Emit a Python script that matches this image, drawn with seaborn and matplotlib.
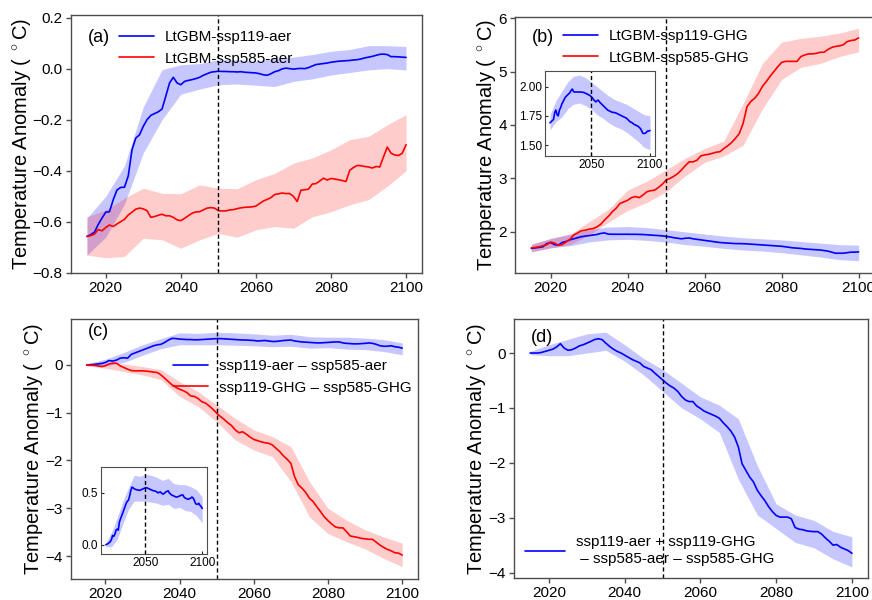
import numpy as np
import pandas as pd
import matplotlib
matplotlib.use("Agg")
import matplotlib.pyplot as plt
import seaborn as sns

# ---------------- data ----------------
years = list(range(2015, 2101))
band_years = list(range(2015, 2101, 5))

a_blue = [-0.657, -0.650, -0.640, -0.610, -0.585, -0.562, -0.560, -0.513, -0.475, -0.465,
          -0.464, -0.420, -0.318, -0.272, -0.259, -0.226, -0.200, -0.183, -0.176, -0.169,
          -0.158, -0.108, -0.056, -0.034, -0.056, -0.063, -0.050, -0.046, -0.043, -0.039,
          -0.034, -0.026, -0.020, -0.014, -0.012, -0.010, -0.011, -0.011, -0.012, -0.012,
          -0.013, -0.012, -0.014, -0.015, -0.016, -0.017, -0.020, -0.024, -0.026, -0.020,
          -0.012, -0.008, -0.001, 0.002, 0.000, -0.002, 0.000, 0.001, 0.000, 0.004,
          0.010, 0.016, 0.018, 0.020, 0.022, 0.025, 0.027, 0.029, 0.030, 0.031,
          0.032, 0.034, 0.035, 0.038, 0.042, 0.045, 0.048, 0.052, 0.056, 0.057,
          0.055, 0.047, 0.047, 0.046, 0.045, 0.044]
a_blue_lo = [-0.73, -0.66, -0.53, -0.33, -0.20, -0.10, -0.08, -0.063, -0.06, -0.065,
             -0.07, -0.05, -0.04, -0.025, -0.015, -0.005, 0.0, -0.005]
a_blue_hi = [-0.585, -0.50, -0.38, -0.15, -0.004, 0.015, 0.02, 0.035, 0.035, 0.03,
             0.04, 0.045, 0.055, 0.068, 0.075, 0.09, 0.09, 0.087]

a_red = [-0.657, -0.654, -0.648, -0.630, -0.635, -0.622, -0.612, -0.618, -0.608, -0.599,
         -0.590, -0.573, -0.562, -0.550, -0.546, -0.549, -0.556, -0.582, -0.579, -0.574,
         -0.570, -0.576, -0.576, -0.582, -0.592, -0.595, -0.586, -0.576, -0.566, -0.561,
         -0.560, -0.553, -0.546, -0.544, -0.546, -0.556, -0.557, -0.557, -0.553, -0.552,
         -0.548, -0.545, -0.543, -0.542, -0.541, -0.538, -0.528, -0.518, -0.512, -0.505,
         -0.493, -0.490, -0.487, -0.489, -0.489, -0.500, -0.520, -0.476, -0.474, -0.472,
         -0.452, -0.450, -0.440, -0.429, -0.436, -0.430, -0.432, -0.435, -0.438, -0.442,
         -0.398, -0.387, -0.379, -0.380, -0.383, -0.385, -0.389, -0.383, -0.385, -0.345,
         -0.307, -0.331, -0.338, -0.340, -0.331, -0.298]
a_red_lo = [-0.73, -0.74, -0.735, -0.664, -0.67, -0.703, -0.67, -0.645, -0.66, -0.631,
            -0.618, -0.625, -0.58, -0.56, -0.533, -0.513, -0.46, -0.40]
a_red_hi = [-0.58, -0.553, -0.507, -0.468, -0.488, -0.49, -0.455, -0.468, -0.47, -0.435,
            -0.41, -0.37, -0.35, -0.318, -0.278, -0.265, -0.22, -0.18]

b_blue = [1.69, 1.70, 1.71, 1.72, 1.78, 1.80, 1.76, 1.75, 1.80, 1.82,
          1.85, 1.87, 1.89, 1.91, 1.92, 1.93, 1.94, 1.95, 1.97, 1.98,
          1.957, 1.955, 1.955, 1.955, 1.955, 1.955, 1.954, 1.954, 1.952, 1.950,
          1.945, 1.94, 1.935, 1.93, 1.925, 1.915, 1.905, 1.89, 1.88, 1.87,
          1.88, 1.885, 1.87, 1.86, 1.85, 1.84, 1.83, 1.82, 1.81, 1.80,
          1.795, 1.79, 1.785, 1.78, 1.78, 1.778, 1.775, 1.77, 1.765, 1.76,
          1.755, 1.75, 1.745, 1.74, 1.735, 1.73, 1.72, 1.71, 1.70, 1.695,
          1.69, 1.68, 1.675, 1.67, 1.665, 1.66, 1.65, 1.64, 1.62, 1.60,
          1.60, 1.60, 1.61, 1.62, 1.62, 1.625]
b_blue_lo = [1.63, 1.70, 1.74, 1.81, 1.85, 1.86, 1.84, 1.81, 1.76, 1.73,
             1.69, 1.66, 1.64, 1.61, 1.57, 1.53, 1.48, 1.46]
b_blue_hi = [1.76, 1.88, 1.96, 2.04, 2.09, 2.10, 2.08, 2.04, 2.00, 1.96,
             1.92, 1.89, 1.87, 1.85, 1.82, 1.79, 1.76, 1.75]

b_red = [1.70, 1.71, 1.72, 1.74, 1.76, 1.81, 1.79, 1.75, 1.76, 1.81,
         1.86, 1.94, 1.98, 2.02, 2.03, 2.05, 2.06, 2.09, 2.14, 2.22,
         2.29, 2.375, 2.44, 2.53, 2.56, 2.59, 2.64, 2.66, 2.64, 2.69,
         2.75, 2.77, 2.78, 2.83, 2.89, 2.97, 3.00, 3.04, 3.09, 3.16,
         3.24, 3.31, 3.31, 3.34, 3.42, 3.44, 3.45, 3.47, 3.49, 3.50,
         3.56, 3.61, 3.67, 3.75, 3.84, 4.03, 4.34, 4.44, 4.50, 4.59,
         4.72, 4.81, 4.91, 5.00, 5.09, 5.17, 5.19, 5.19, 5.19, 5.19,
         5.28, 5.31, 5.33, 5.33, 5.34, 5.36, 5.36, 5.41, 5.45, 5.47,
         5.48, 5.50, 5.56, 5.58, 5.59, 5.63]
b_red_lo = [1.62, 1.70, 1.76, 1.94, 2.18, 2.40, 2.55, 2.75, 3.05, 3.30,
            3.42, 3.62, 4.30, 4.85, 5.08, 5.15, 5.28, 5.37]
b_red_hi = [1.78, 1.87, 1.95, 2.19, 2.42, 2.78, 2.95, 3.16, 3.38, 3.56,
            3.70, 4.40, 5.15, 5.55, 5.62, 5.66, 5.72, 5.81]

c_blue = [0.00, 0.005, 0.01, 0.02, 0.03, 0.05, 0.09, 0.08, 0.10, 0.14,
          0.15, 0.14, 0.22, 0.25, 0.28, 0.31, 0.34, 0.37, 0.40, 0.42,
          0.43, 0.47, 0.52, 0.555, 0.55, 0.54, 0.535, 0.53, 0.53, 0.525,
          0.525, 0.53, 0.535, 0.54, 0.545, 0.55, 0.55, 0.545, 0.54, 0.535,
          0.53, 0.525, 0.52, 0.52, 0.515, 0.51, 0.50, 0.505, 0.51, 0.50,
          0.49, 0.49, 0.50, 0.51, 0.515, 0.52, 0.50, 0.49, 0.48, 0.475,
          0.47, 0.465, 0.46, 0.46, 0.465, 0.47, 0.475, 0.48, 0.48, 0.46,
          0.45, 0.445, 0.44, 0.44, 0.445, 0.45, 0.46, 0.45, 0.43, 0.40,
          0.39, 0.39, 0.40, 0.38, 0.37, 0.35]
c_blue_lo = [-0.02, -0.02, 0.05, 0.20, 0.34, 0.42, 0.42, 0.42, 0.41, 0.40,
             0.38, 0.39, 0.35, 0.36, 0.33, 0.32, 0.28, 0.21]
c_blue_hi = [0.02, 0.12, 0.26, 0.42, 0.55, 0.67, 0.66, 0.68, 0.67, 0.65,
             0.62, 0.64, 0.59, 0.58, 0.58, 0.56, 0.53, 0.46]

c_red = [0.0, -0.005, -0.01, -0.02, -0.035, -0.02, 0.02, 0.035, 0.035, -0.02,
         -0.055, -0.09, -0.12, -0.125, -0.125, -0.125, -0.13, -0.14, -0.15, -0.16,
         -0.21, -0.28, -0.35, -0.42, -0.47, -0.51, -0.54, -0.58, -0.65, -0.66,
         -0.705, -0.77, -0.80, -0.86, -0.93, -1.01, -1.08, -1.14, -1.21, -1.27,
         -1.36, -1.42, -1.40, -1.45, -1.51, -1.56, -1.585, -1.61, -1.63, -1.64,
         -1.675, -1.745, -1.815, -1.905, -1.975, -2.06, -2.34, -2.51, -2.58, -2.67,
         -2.79, -2.86, -2.97, -3.07, -3.18, -3.26, -3.33, -3.39, -3.41, -3.41,
         -3.49, -3.58, -3.595, -3.61, -3.63, -3.64, -3.65, -3.65, -3.71, -3.77,
         -3.82, -3.86, -3.89, -3.93, -3.94, -3.98]
c_red_lo = [-0.02, -0.07, -0.14, -0.21, -0.31, -0.66, -0.87, -1.19, -1.57, -1.78,
            -1.92, -2.44, -3.18, -3.53, -3.70, -3.85, -4.05, -4.22]
c_red_hi = [0.02, 0.035, 0.02, -0.035, -0.10, -0.35, -0.56, -0.84, -1.12, -1.36,
            -1.50, -1.71, -2.44, -3.00, -3.25, -3.45, -3.60, -3.73]

d_sum = [0.0, 0.0, 0.0, 0.01, 0.03, 0.05, 0.07, 0.11, 0.17, 0.09,
         0.05, 0.06, 0.09, 0.13, 0.15, 0.18, 0.21, 0.245, 0.26, 0.245,
         0.18, 0.12, 0.07, 0.03, 0.0, -0.04, -0.08, -0.12, -0.15, -0.18,
         -0.245, -0.275, -0.305, -0.37, -0.43, -0.49, -0.55, -0.60, -0.64, -0.70,
         -0.79, -0.855, -0.885, -0.885, -0.965, -1.01, -1.06, -1.09, -1.12, -1.15,
         -1.19, -1.27, -1.34, -1.42, -1.53, -1.71, -2.02, -2.14, -2.26, -2.35,
         -2.50, -2.60, -2.69, -2.80, -2.89, -2.96, -2.99, -2.99, -2.99, -3.02,
         -3.18, -3.21, -3.22, -3.24, -3.25, -3.255, -3.255, -3.30, -3.37, -3.43,
         -3.50, -3.49, -3.54, -3.57, -3.60, -3.65]
d_lo = [-0.03, -0.05, -0.05, 0.0, 0.05, -0.15, -0.40, -0.70, -1.00, -1.20,
        -1.45, -2.30, -2.95, -3.20, -3.45, -3.55, -3.75, -3.90]
d_hi = [0.03, 0.15, 0.25, 0.35, 0.38, 0.15, -0.10, -0.30, -0.55, -0.80,
        -0.95, -1.20, -2.05, -2.75, -2.95, -3.05, -3.25, -3.35]

labels_a = ["LtGBM-ssp119-aer", "LtGBM-ssp585-aer"]
labels_b = ["LtGBM-ssp119-GHG", "LtGBM-ssp585-GHG"]
labels_c = ["ssp119-aer \u2013 ssp585-aer", "ssp119-GHG \u2013 ssp585-GHG"]
label_d = "ssp119-aer + ssp119-GHG\n \u2013 ssp585-aer \u2013 ssp585-GHG"
ylabel = r"Temperature Anomaly ( $^\circ$C)"

# ---------------- style ----------------
sns.set_theme(style="ticks")
plt.rcParams["font.family"] = ["Liberation Sans", "DejaVu Sans"]
plt.rcParams["mathtext.fontset"] = "custom"
plt.rcParams["mathtext.rm"] = "Liberation Sans"
plt.rcParams["axes.edgecolor"] = "0.3"
plt.rcParams["axes.linewidth"] = 1.0
plt.rcParams["text.color"] = "black"
plt.rcParams["axes.labelcolor"] = "black"
plt.rcParams["xtick.labelcolor"] = "black"
plt.rcParams["ytick.labelcolor"] = "black"

BLUE = "#0000ff"
RED = "#ff0000"
FBLUE = (0.0, 0.0, 1.0, 0.22)
FRED = (1.0, 0.0, 0.0, 0.2)

W, H = 872, 600
fig = plt.figure(figsize=(W / 100, H / 100), dpi=100)


def px_axes(l, t, r, b):
    return fig.add_axes([l / W, 1 - b / H, (r - l) / W, (b - t) / H])


def style_main(ax, ylim):
    ax.set_xlim(2010.75, 2104.25)
    ax.set_ylim(*ylim)
    ax.set_xticks([2020, 2040, 2060, 2080, 2100])
    ax.tick_params(labelsize=11, length=3.5, width=1, color="0.3", direction="out", pad=2.5)
    ax.set_ylabel(ylabel, fontsize=14.5, labelpad=0)
    ax.set_xlabel("")
    ax.axvline(2050, color="black", ls="--", lw=1.0, dashes=(3, 2))


def style_inset(ax, ylim, yticks, fmt):
    ax.set_xlim(2010.75, 2104.25)
    ax.set_ylim(*ylim)
    ax.set_xticks([2050, 2100])
    ax.set_yticks(yticks)
    ax.set_yticklabels([fmt.format(v) for v in yticks])
    ax.tick_params(labelsize=8.5, length=2, width=0.8, direction="in", pad=2)
    ax.set_xlabel("")
    ax.set_ylabel("")
    for s in ax.spines.values():
        s.set_linewidth(0.8)
    ax.axvline(2050, color="black", ls="--", lw=1.0, dashes=(3, 2))


def draw(ax, y, lo, hi, color, fcolor, label=None, lw=1.2):
    ax.fill_between(band_years, lo, hi, color=fcolor, lw=0)
    df = pd.DataFrame({"year": years, "val": y})
    sns.lineplot(data=df, x="year", y="val", ax=ax, color=color, lw=lw,
                 label=label, legend=False)


leg_kw = dict(bbox_transform=fig.transFigure, frameon=False, fontsize=11,
              handlelength=2.3, handletextpad=0.7, labelspacing=0.5, borderaxespad=0,
              loc="upper left")

# (a)
axa = px_axes(71, 15, 422, 273)
draw(axa, a_blue, a_blue_lo, a_blue_hi, BLUE, FBLUE, labels_a[0])
draw(axa, a_red, a_red_lo, a_red_hi, RED, FRED, labels_a[1])
style_main(axa, (-0.8, 0.21))
axa.set_yticks([-0.8, -0.6, -0.4, -0.2, 0.0, 0.2])
axa.set_yticklabels(["\u22120.8", "\u22120.6", "\u22120.4", "\u22120.2", "0.0", "0.2"])
axa.legend(bbox_to_anchor=(113 / W, 1 - 24 / H), **leg_kw)
fig.text(88 / W, 1 - 38 / H, "(a)", fontsize=13, va="center", ha="left")

# (b)
axb = px_axes(515, 17, 875, 273)
draw(axb, b_blue, b_blue_lo, b_blue_hi, BLUE, FBLUE, labels_b[0])
draw(axb, b_red, b_red_lo, b_red_hi, RED, FRED, labels_b[1])
style_main(axb, (1.23, 6.02))
axb.set_yticks([2, 3, 4, 5, 6])
axb.legend(bbox_to_anchor=(557 / W, 1 - 23 / H), **leg_kw)
fig.text(532 / W, 1 - 37 / H, "(b)", fontsize=13, va="center", ha="left")

axbi = px_axes(545, 71, 655, 156)
draw(axbi, b_blue, b_blue_lo, b_blue_hi, BLUE, FBLUE)
style_inset(axbi, (1.406, 2.135), [1.5, 1.75, 2.0], "{:.2f}")

# (c)
axc = px_axes(71, 319, 418, 579)
draw(axc, c_blue, c_blue_lo, c_blue_hi, BLUE, FBLUE, labels_c[0])
draw(axc, c_red, c_red_lo, c_red_hi, RED, FRED, labels_c[1])
style_main(axc, (-4.48, 0.96))
axc.set_yticks([-4, -3, -2, -1, 0])
axc.set_yticklabels(["\u22124", "\u22123", "\u22122", "\u22121", "0"])
axc.legend(bbox_to_anchor=(167 / W, 1 - 353 / H), **leg_kw)
fig.text(88 / W, 1 - 332 / H, "(c)", fontsize=13, va="center", ha="left")

axci = px_axes(101, 467, 207, 554)
draw(axci, c_blue, c_blue_lo, c_blue_hi, BLUE, FBLUE)
style_inset(axci, (-0.09, 0.75), [0.0, 0.5], "{:.1f}")

# (d)
axd = px_axes(514, 319, 868, 578)
draw(axd, d_sum, d_lo, d_hi, BLUE, FBLUE, label_d)
style_main(axd, (-4.1, 0.62))
axd.set_yticks([-4, -3, -2, -1, 0])
axd.set_yticklabels(["\u22124", "\u22123", "\u22122", "\u22121", "0"])
legd = axd.legend(bbox_to_anchor=(519 / W, 1 - 529 / H),
                  **dict(leg_kw, handlelength=2.6))
for t in legd.get_texts():
    t.set_linespacing(1.3)
fig.text(531 / W, 1 - 337 / H, "(d)", fontsize=13, va="center", ha="left")

fig.savefig("out.png", dpi=100)
